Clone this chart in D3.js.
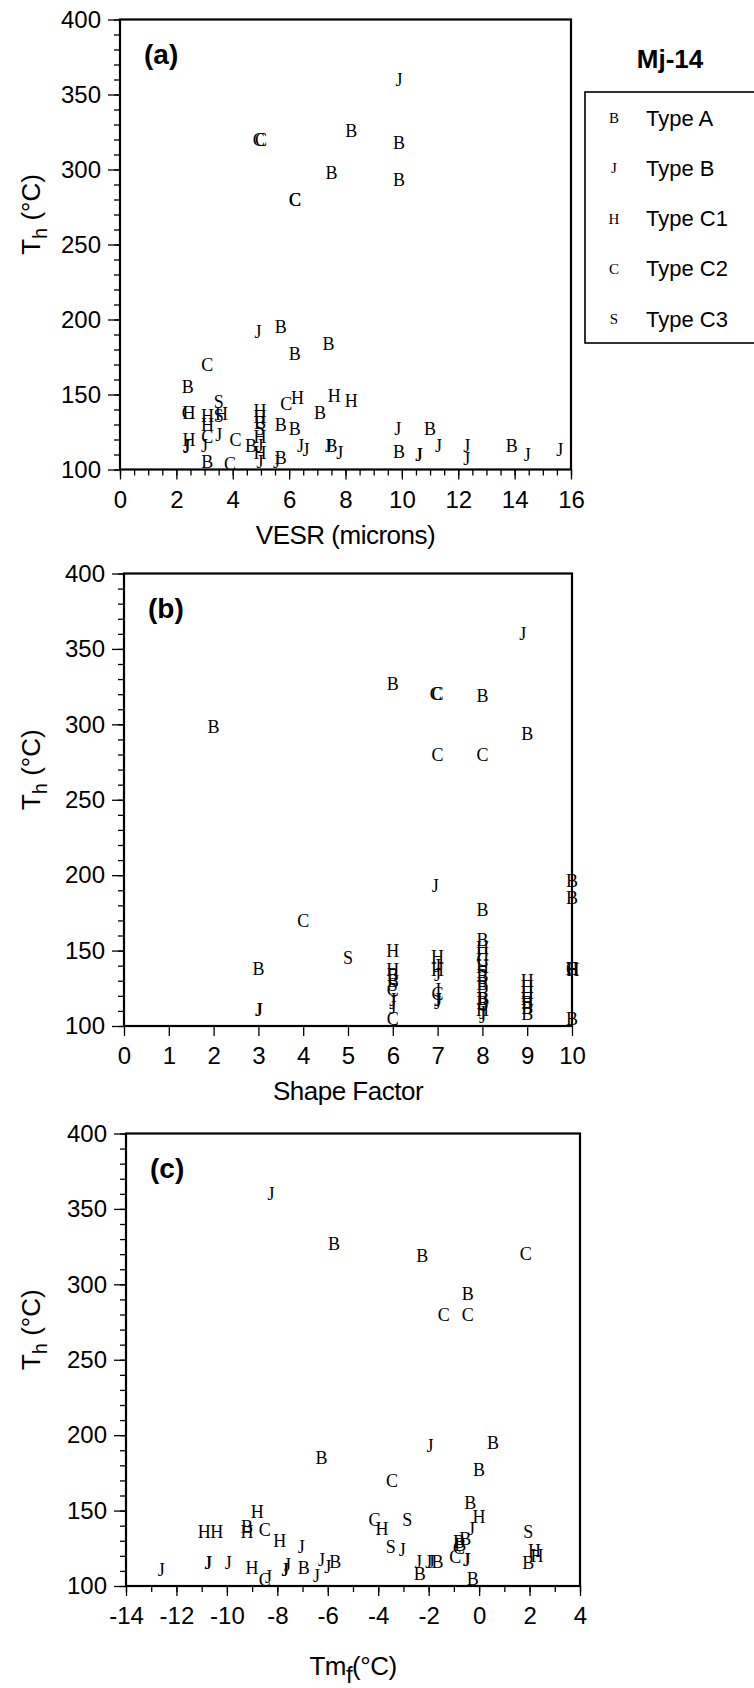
<!DOCTYPE html>
<html>
<head>
<meta charset="utf-8">
<script src="https://cdn.jsdelivr.net/npm/d3@7"></script>
<style>
  body { margin: 0; background: #fff; }
  svg { display: block; }
</style>
</head>
<body>
<svg id="chart" width="754" height="1688"></svg>
<script>
// legend
var typeNames = ["Type A", "Type B", "Type C1", "Type C2", "Type C3"];
var typeSymbols = ["B", "J", "H", "C", "S"];

// panel (a) : [symbol, VESR, Th]
var vesrPoints = [
  ["B", 8.2, 326], ["B", 9.9, 318], ["B", 7.5, 298], ["B", 9.9, 293], ["B", 5.7, 195],
  ["B", 7.4, 184], ["B", 6.2, 177], ["B", 2.4, 155], ["B", 7.1, 138], ["B", 4.97, 131],
  ["B", 5.7, 130], ["B", 6.2, 127], ["B", 4.65, 116], ["B", 5.7, 108], ["B", 3.1, 105],
  ["B", 7.5, 116], ["B", 11.0, 127], ["B", 9.9, 112], ["B", 13.9, 116],
  ["J", 9.9, 360], ["J", 4.9, 192], ["J", 3.5, 123], ["J", 2.35, 116], ["J", 2.37, 115],
  ["J", 3.0, 116], ["J", 4.97, 116], ["J", 4.97, 105], ["J", 6.4, 116], ["J", 6.6, 113],
  ["J", 5.55, 105], ["J", 7.4, 116], ["J", 7.8, 111], ["J", 9.85, 127], ["J", 10.6, 110],
  ["J", 10.62, 109.5], ["J", 11.3, 116], ["J", 12.3, 116], ["J", 12.3, 107], ["J", 14.45, 110],
  ["J", 15.6, 113],
  ["H", 6.3, 148], ["H", 7.6, 149], ["H", 8.2, 146], ["H", 2.45, 138], ["H", 3.1, 136],
  ["H", 3.6, 137], ["H", 3.1, 130], ["H", 2.45, 120], ["H", 4.97, 139], ["H", 4.97, 135],
  ["H", 4.97, 122], ["H", 4.97, 111],
  ["C", 4.92, 320], ["C", 5.0, 320], ["C", 6.2, 280], ["C", 6.22, 280], ["C", 3.1, 170],
  ["C", 5.9, 144], ["C", 2.4, 138], ["C", 3.1, 122], ["C", 4.1, 120], ["C", 3.9, 104],
  ["S", 3.5, 145], ["S", 3.5, 136], ["S", 4.97, 127]
];

// panel (b) : [symbol, shape factor, Th]
var shapePoints = [
  ["J", 8.9, 360], ["J", 6.95, 193], ["J", 3, 111], ["J", 3.02, 111], ["J", 6, 117],
  ["J", 6, 115], ["J", 6, 112], ["J", 7, 140], ["J", 7, 134], ["J", 7, 124],
  ["J", 7, 117], ["J", 7.02, 117], ["J", 7, 115], ["J", 8, 106], ["J", 8, 109],
  ["B", 6, 327], ["B", 8, 319], ["B", 2, 298], ["B", 9, 294], ["B", 10, 196],
  ["B", 10, 185], ["B", 8, 177], ["B", 3, 138], ["B", 6, 134], ["B", 6, 130],
  ["B", 8, 157], ["B", 8, 133], ["B", 8, 128], ["B", 8, 126], ["B", 8, 118],
  ["B", 8.02, 118], ["B", 8, 115], ["B", 9, 115], ["B", 9, 112], ["B", 9, 108],
  ["B", 10, 105],
  ["C", 6.96, 320], ["C", 7.0, 320], ["C", 7, 280], ["C", 8, 280], ["C", 4, 170],
  ["C", 6, 124], ["C", 6, 105], ["C", 7, 121], ["C", 8, 144], ["C", 10, 138],
  ["H", 6, 150], ["H", 6, 137], ["H", 7, 146], ["H", 7, 137], ["H", 8, 152],
  ["H", 8, 148], ["H", 8, 139], ["H", 8, 111], ["H", 9, 130], ["H", 9, 126],
  ["H", 9, 122], ["H", 9, 118], ["H", 10, 138], ["H", 10.02, 137],
  ["S", 5, 145], ["S", 6, 127], ["S", 8, 136]
];

// panel (c) : [symbol, Tmf, Th]
var tmfPoints = [
  ["J", -8.25, 360], ["J", -1.95, 193], ["J", -0.3, 138], ["J", -7.05, 126], ["J", -3.05, 124],
  ["J", -0.5, 117], ["J", -0.48, 117], ["J", -12.6, 111], ["J", -10.75, 115], ["J", -10.73, 115],
  ["J", -9.95, 115], ["J", -8.35, 106], ["J", -7.7, 111], ["J", -7.68, 111], ["J", -7.6, 114],
  ["J", -6.45, 107], ["J", -6.25, 117], ["J", -6.0, 113], ["J", -2.4, 116], ["J", -2.0, 116],
  ["J", -1.9, 116],
  ["B", -5.75, 327], ["B", -2.25, 319], ["B", -0.45, 294], ["B", 0.55, 195], ["B", -6.25, 185],
  ["B", 0, 177], ["B", -0.35, 155], ["B", -9.2, 139], ["B", -0.55, 131], ["B", -0.8, 129],
  ["B", -0.75, 127], ["B", 1.95, 115], ["B", -6.95, 112], ["B", -5.7, 116], ["B", -2.35, 108],
  ["B", -1.65, 116], ["B", -0.25, 105],
  ["C", 1.85, 320], ["C", -1.4, 280], ["C", -0.45, 280], ["C", -3.45, 170], ["C", -4.15, 144],
  ["C", -8.5, 137], ["C", -0.8, 125], ["C", -0.95, 119], ["C", -8.5, 104],
  ["H", -8.8, 149], ["H", 0, 146], ["H", -3.85, 138], ["H", -10.9, 136], ["H", -10.4, 136],
  ["H", -9.2, 136], ["H", -7.9, 130], ["H", 2.2, 123], ["H", 2.3, 120], ["H", -9.0, 112],
  ["S", -2.85, 144], ["S", 1.95, 136], ["S", -3.5, 126]
];

var thTicks = [100, 150, 200, 250, 300, 350, 400];
var vesrTicks = [0, 2, 4, 6, 8, 10, 12, 14, 16];
var shapeTicks = [0, 1, 2, 3, 4, 5, 6, 7, 8, 9, 10];
var tmfTicks = [-14, -12, -10, -8, -6, -4, -2, 0, 2, 4];

var sans = "'Liberation Sans', Arial, sans-serif";
var serif = "'Liberation Serif', 'Times New Roman', serif";

var svg = d3.select("#chart");

var panels = [
  {label: "(a)", data: vesrPoints, xDomain: [0, 16], xTicks: vesrTicks, xMinor: 0.5,
   left: 120, right: 571, top: 19.5, bottom: 469.5, title: "VESR (microns)"},
  {label: "(b)", data: shapePoints, xDomain: [0, 10], xTicks: shapeTicks, xMinor: 0,
   left: 124, right: 572, top: 573.5, bottom: 1026, title: "Shape Factor"},
  {label: "(c)", data: tmfPoints, xDomain: [-14, 4], xTicks: tmfTicks, xMinor: 1,
   left: 126, right: 580, top: 1133.5, bottom: 1586, title: "Tmf"}
];

panels.forEach(function(p){
  var xScale = d3.scaleLinear().domain(p.xDomain).range([p.left, p.right]);
  var yScale = d3.scaleLinear().domain([100, 400]).range([p.bottom, p.top]);

  var g = svg.append("g");

  // minor ticks
  var yMinor = d3.range(100, 401, 10);
  g.append("g")
    .attr("transform", "translate(" + p.left + ",0)")
    .call(d3.axisLeft(yScale).tickValues(yMinor).tickSize(6).tickFormat(""))
    .call(function(a){ a.select(".domain").remove(); });
  if(p.xMinor > 0){
    var xMinor = d3.range(p.xDomain[0], p.xDomain[1] + 0.001, p.xMinor);
    g.append("g")
      .attr("transform", "translate(0," + p.bottom + ")")
      .call(d3.axisBottom(xScale).tickValues(xMinor).tickSize(6).tickFormat(""))
      .call(function(a){ a.select(".domain").remove(); });
  }

  // major ticks
  var yAxis = g.append("g")
    .attr("transform", "translate(" + p.left + ",0)")
    .call(d3.axisLeft(yScale).tickValues(thTicks).tickSize(12).tickPadding(7));
  var xAxis = g.append("g")
    .attr("transform", "translate(0," + p.bottom + ")")
    .call(d3.axisBottom(xScale).tickValues(p.xTicks).tickSize(10).tickPadding(11)
      .tickFormat(function(d){ return d < 0 ? "-" + Math.abs(d) : d; }));

  [xAxis, yAxis].forEach(function(a){
    a.select(".domain").remove();
    a.selectAll("text").style("font-family", sans).style("font-size", "24px").attr("fill", "#000");
  });
  g.selectAll(".tick line").attr("stroke", "#000").attr("stroke-width", 1.3);

  // frame
  g.append("rect")
    .attr("x", p.left).attr("y", p.top)
    .attr("width", p.right - p.left).attr("height", p.bottom - p.top)
    .attr("fill", "none").attr("stroke", "#000").attr("stroke-width", 2.2);

  // panel label
  g.append("text")
    .attr("x", p.left + 24).attr("y", p.top + 44)
    .style("font-family", sans).style("font-size", "28px").style("font-weight", "bold")
    .text(p.label);

  // y title
  var cy = (p.top + p.bottom) / 2 - 30;
  var yt = g.append("text")
    .attr("transform", "translate(40," + cy + ") rotate(-90)")
    .attr("text-anchor", "middle")
    .style("font-family", sans).style("font-size", "26px");
  yt.append("tspan").text("T");
  yt.append("tspan").attr("dy", 7).style("font-size", "20px").text("h");
  yt.append("tspan").attr("dy", -7).text(" (°C)");

  // x title
  var xt = g.append("text")
    .attr("x", (p.left + p.right) / 2)
    .attr("y", p.bottom + 74)
    .attr("text-anchor", "middle")
    .style("font-family", sans).style("font-size", "26px")
    .style("letter-spacing", "-0.5px");
  if(p.title == "Tmf"){
    xt.attr("y", p.bottom + 89);
    xt.append("tspan").text("Tm");
    xt.append("tspan").attr("dy", 8).style("font-size", "24px").text("f");
    xt.append("tspan").attr("dy", -8).text("(°C)");
  }
  else{
    xt.text(p.title);
  }

  // symbols
  g.selectAll("text.pt")
    .data(p.data)
    .enter()
    .append("text")
    .attr("class", "pt")
    .attr("x", function(d){ return xScale(d[1]); })
    .attr("y", function(d){ return yScale(d[2]); })
    .attr("dy", "0.34em")
    .attr("text-anchor", "middle")
    .style("font-family", serif).style("font-size", "18px")
    .text(function(d){ return d[0]; });
});

// sample name and legend
svg.append("text")
  .attr("x", 670).attr("y", 68)
  .attr("text-anchor", "middle")
  .style("font-family", sans).style("font-size", "26px").style("font-weight", "bold")
  .text("Mj-14");

svg.append("rect")
  .attr("x", 585).attr("y", 92)
  .attr("width", 200).attr("height", 251)
  .attr("fill", "none").attr("stroke", "#000").attr("stroke-width", 1.6);

var legendRows = svg.selectAll("g.leg")
  .data(typeNames)
  .enter()
  .append("g")
  .attr("class", "leg")
  .attr("transform", function(d, i){ return "translate(0," + (118 + i * 50.2) + ")"; });

legendRows.append("text")
  .attr("x", 614).attr("dy", "0.34em")
  .attr("text-anchor", "middle")
  .style("font-family", serif).style("font-size", "15px")
  .text(function(d, i){ return typeSymbols[i]; });

legendRows.append("text")
  .attr("x", 646).attr("dy", "0.35em")
  .style("font-family", sans).style("font-size", "22px")
  .text(function(d){ return d; });
</script>
</body>
</html>
